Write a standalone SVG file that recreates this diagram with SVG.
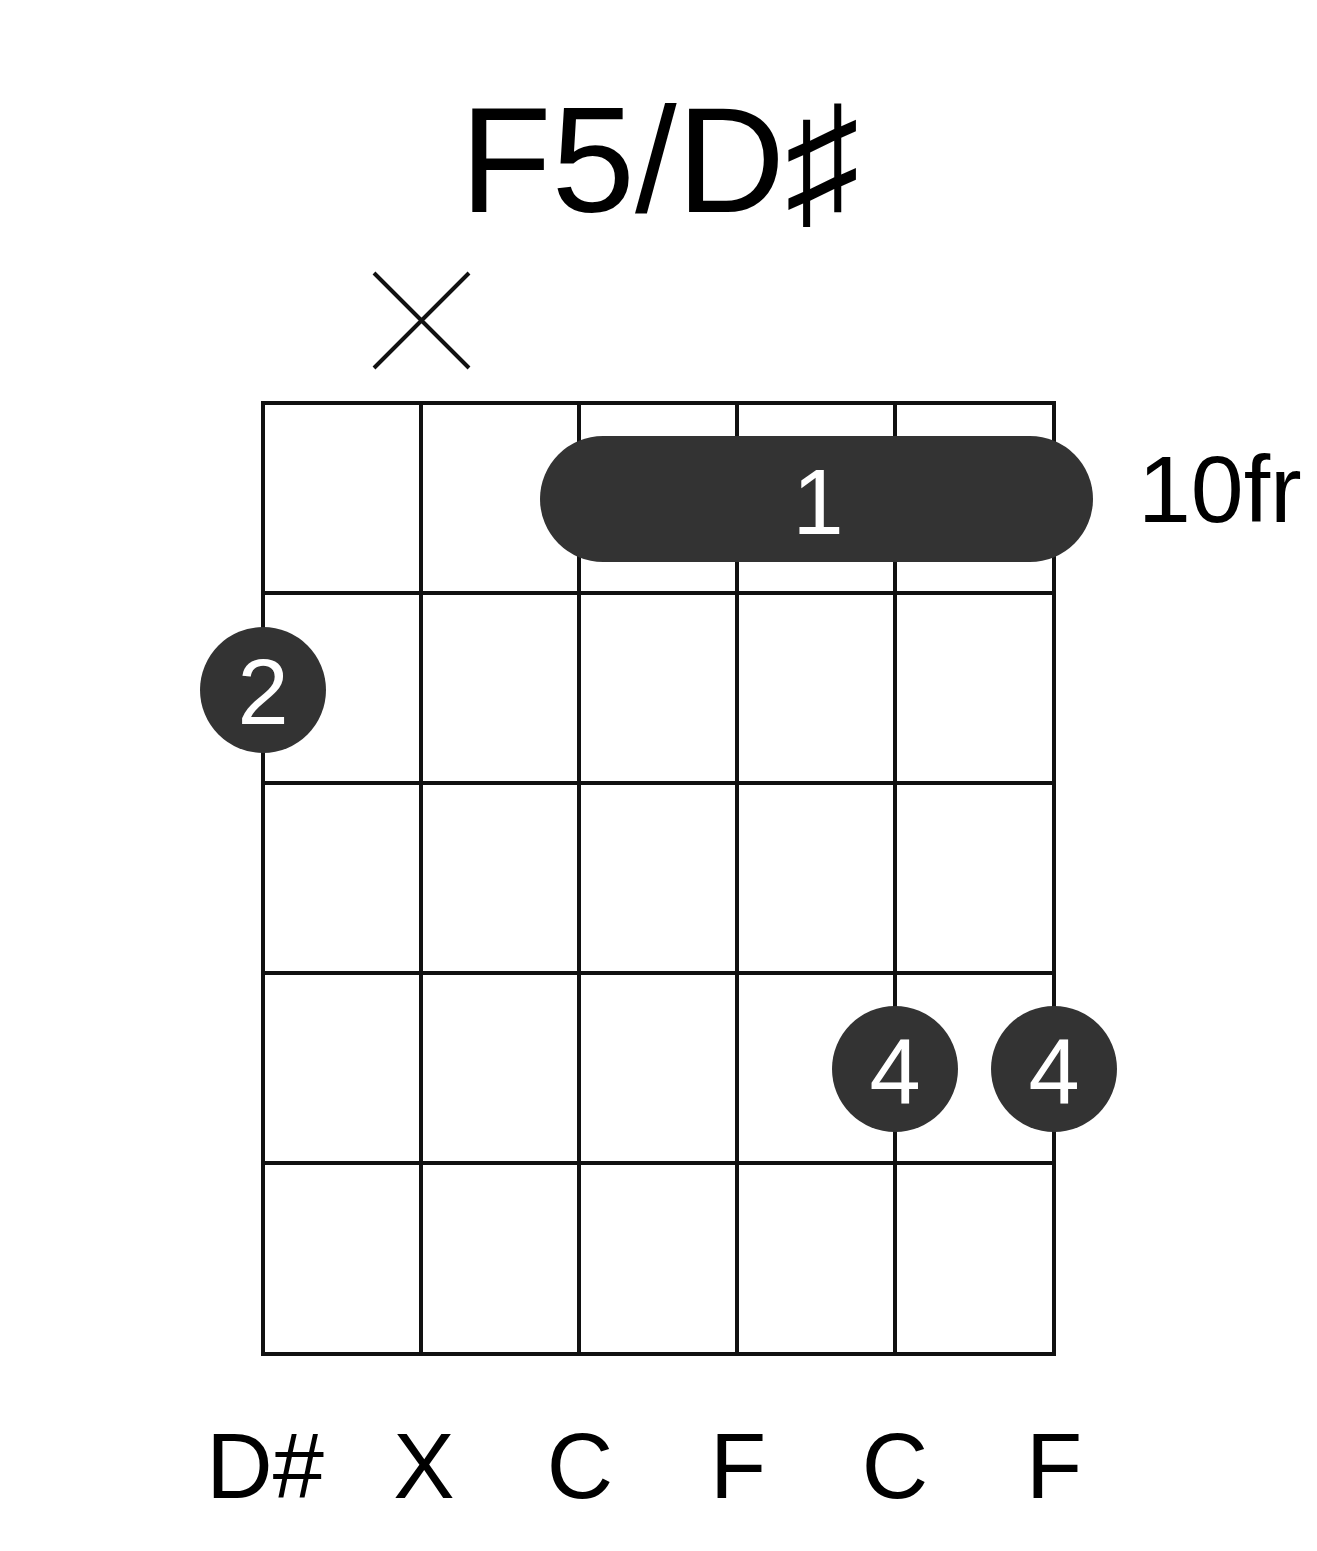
<svg xmlns="http://www.w3.org/2000/svg" width="1317" height="1551" viewBox="0 0 1317 1551">
<style>
.g{stroke:#111;stroke-width:4;fill:none}
.t{font-family:"Liberation Sans",Arial,sans-serif;fill:#000}
.f{fill:#333}
.w{font-family:"Liberation Sans",Arial,sans-serif;fill:#fff;text-anchor:middle}
</style>
<rect width="1317" height="1551" fill="#fff"/>
<text class="t" x="660" y="212" font-size="150" text-anchor="middle">F5/D♯</text>
<g id="mute"><path class="g" d="M374 273L469 368M469 273L374 368"/></g>
<g id="grid" class="g">
<rect x="263" y="403" width="791" height="951"/>
<path d="M421 403V1354M579 403V1354M737 403V1354M895 403V1354M263 593H1054M263 783H1054M263 973H1054M263 1163H1054"/>
</g>
<g id="barre"><rect class="f" x="540" y="436" width="553" height="126" rx="63"/><text class="w" x="818" y="534" font-size="92">1</text></g>
<text class="t" x="1138" y="522" font-size="95">10fr</text>
<g id="f2"><circle class="f" cx="263" cy="690" r="63"/><text class="w" x="263" y="724" font-size="92">2</text></g>
<g id="f4a"><circle class="f" cx="895" cy="1069" r="63"/><text class="w" x="895" y="1103" font-size="92">4</text></g>
<g id="f4b"><circle class="f" cx="1054" cy="1069" r="63"/><text class="w" x="1054" y="1103" font-size="92">4</text></g>
<g class="t" font-size="92" text-anchor="middle">
<text x="265" y="1498">D#</text><text x="424" y="1498">X</text><text x="580" y="1498">C</text><text x="738" y="1498">F</text><text x="895" y="1498">C</text><text x="1054" y="1498">F</text>
</g>
</svg>
